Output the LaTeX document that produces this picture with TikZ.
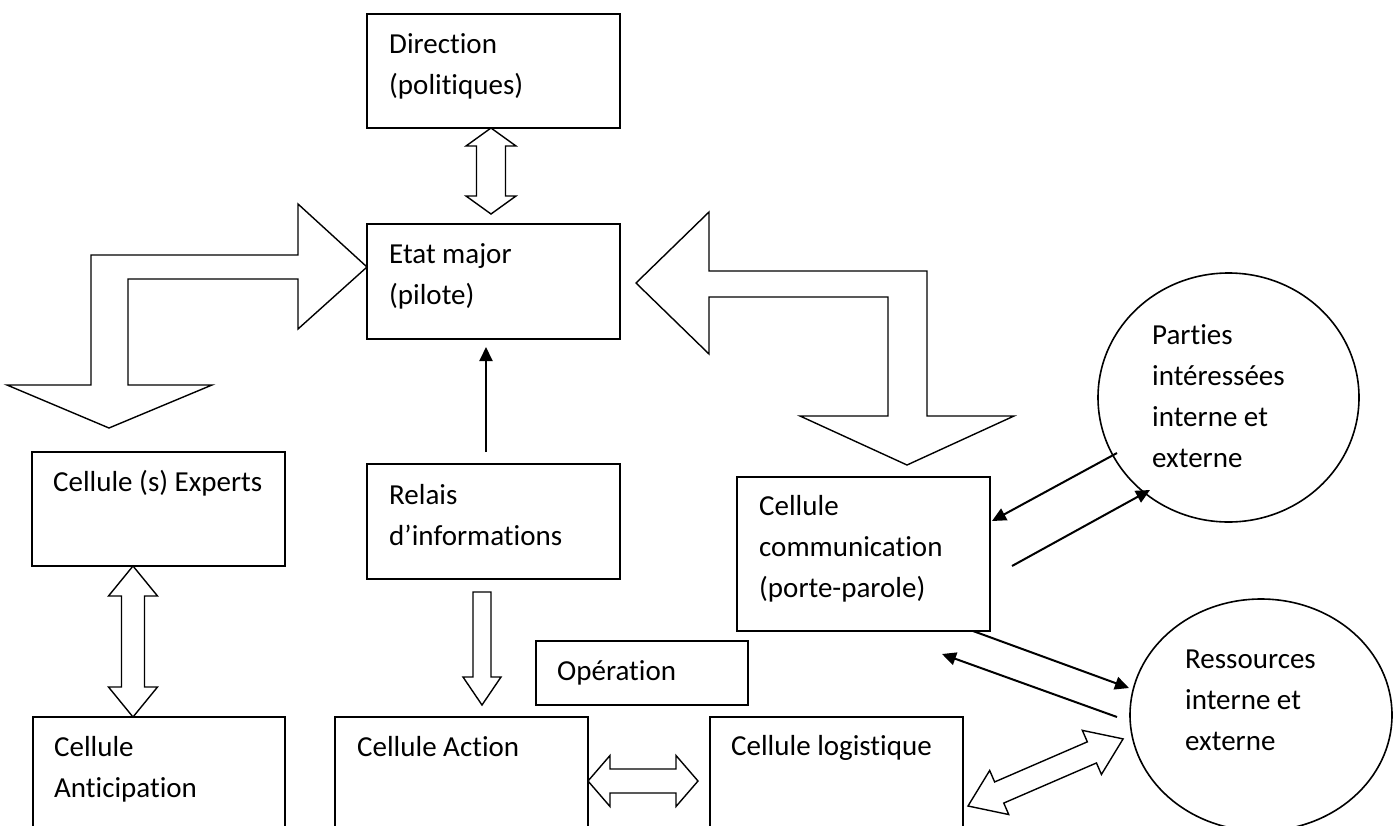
\documentclass[tikz,border=0pt]{standalone}
\usepackage{fontspec}
\setmainfont{Carlito}[Ligatures=NoCommon]
\usetikzlibrary{shapes.geometric,arrows.meta}

% several left-aligned lines, baseline on the first one
\newcommand{\txtlines}[1]{\begin{tabular}[t]{@{}l@{}}#1\end{tabular}}
% hollow double-headed block arrow along the local x axis:
% #1 length, #2 head length, #3 head half-width, #4 shaft half-width
\newcommand{\dblblock}[4]{%
  \draw[blockline] (0,0) -- (#2,#3) -- (#2,#4) -- ({#1-#2},#4) -- ({#1-#2},#3)
    -- (#1,0) -- ({#1-#2},-#3) -- ({#1-#2},-#4) -- (#2,-#4) -- (#2,-#3) -- cycle;}

\begin{document}
\begin{tikzpicture}[x=1pt, y=-1pt,
  box/.style={draw, rectangle, line width=1.6pt, inner sep=0pt},
  oval/.style={draw, ellipse, line width=1.6pt, inner sep=0pt},
  txt/.style={anchor=base west, inner sep=0pt, font=\fontsize{29}{41}\selectfont},
  blockline/.style={line width=1.4pt, line join=miter, fill=white},
  conn/.style={line width=2pt, -{Triangle[length=14pt,width=13pt]}}]

\clip (0,0) rectangle (1400,825);
\fill[white] (0,0) rectangle (1400,825);

% boxes
\node[box, minimum width=253pt, minimum height=114pt] (dir)     at (493.5,71)    {};
\node[box, minimum width=253pt, minimum height=115pt] (etat)    at (493.5,281.5) {};
\node[box, minimum width=253pt, minimum height=115pt] (relais)  at (493.5,521.5) {};
\node[box, minimum width=253pt, minimum height=114pt] (experts) at (158.5,509)   {};
\node[box, minimum width=252pt, minimum height=163pt] (antic)   at (159,798.5)   {};
\node[box, minimum width=253pt, minimum height=163pt] (action)  at (461.5,798.5) {};
\node[box, minimum width=253pt, minimum height=163pt] (logist)  at (836.5,798.5) {};
\node[box, minimum width=253pt, minimum height=154pt] (comm)    at (863.5,554)   {};
\node[box, minimum width=212pt, minimum height=64pt]  (oper)    at (642,673)     {};
\node[oval, minimum width=261pt, minimum height=249pt] (parties) at (1228.5,397.5) {};
\node[oval, minimum width=262pt, minimum height=232pt] (ress)    at (1261,715)    {};

% labels
\node[txt] (dirtxt)     at (389,53)   {\txtlines{Direction\\(politiques)}};
\node[txt] (etattxt)    at (389,263)  {\txtlines{Etat major\\(pilote)}};
\node[txt] (relaistxt)  at (389,504)  {\txtlines{Relais\\d’informations}};
\node[txt] (expertstxt) at (53,491)   {Cellule (s) Experts};
\node[txt] (antictxt)   at (54,756)   {\txtlines{Cellule\\Anticipation}};
\node[txt] (actiontxt)  at (357,756)  {Cellule Action};
\node[txt] (logisttxt)  at (731,755)  {Cellule logistique};
\node[txt] (commtxt)    at (759,515)  {\txtlines{Cellule\\communication\\(porte-parole)}};
\node[txt] (opertxt)    at (557,680)  {Opération};
\node[txt] (partiestxt) at (1152,344) {\txtlines{Parties\\intéressées\\interne et\\externe}};
\node[txt] (resstxt)    at (1185,668) {\txtlines{Ressources\\interne et\\externe}};

% bent block arrow: left branch
\draw[blockline] (367,267) -- (298,204) -- (298,255) -- (91,255) -- (91,385)
  -- (7,385) -- (109,428) -- (212,385) -- (128,385) -- (128,279) -- (298,279)
  -- (298,329) -- cycle;
% bent block arrow: right branch
\draw[blockline] (636,283) -- (709,212) -- (709,271) -- (927,271) -- (927,416)
  -- (1014,416) -- (907,465) -- (800,416) -- (888,416) -- (888,297) -- (709,297)
  -- (709,354) -- cycle;

% double block arrows
\begin{scope}[shift={(491,128)}, rotate=-90] \dblblock{86}{18}{25}{14.5} \end{scope}
\begin{scope}[shift={(133,566)}, rotate=-90] \dblblock{151}{30}{24.5}{11.5} \end{scope}
\begin{scope}[shift={(588,781)}] \dblblock{110}{22}{25.5}{12} \end{scope}
\begin{scope}[shift={(968,806)}, rotate=23.4] \dblblock{169}{34}{24}{11.5} \end{scope}

% single block arrow from the relay box down to the action cell
\draw[blockline] (473,592) -- (491,592) -- (491,677) -- (501,677) -- (482,705)
  -- (463,677) -- (473,677) -- cycle;

% thin connectors
\coordinate (r1) at (486,452);  \coordinate (e1) at (486,347);
\coordinate (p1) at (1117,453); \coordinate (c1) at (992,521);
\coordinate (c2) at (1012,566); \coordinate (p2) at (1150,490);
\coordinate (c3) at (973,631);  \coordinate (s1) at (1129,688);
\coordinate (s2) at (1117,717); \coordinate (o1) at (942,654);
\draw[conn] (r1) -- (e1);
\draw[conn] (p1) -- (c1);
\draw[conn] (c2) -- (p2);
\draw[conn] (c3) -- (s1);
\draw[conn] (s2) -- (o1);
\end{tikzpicture}
\end{document}
